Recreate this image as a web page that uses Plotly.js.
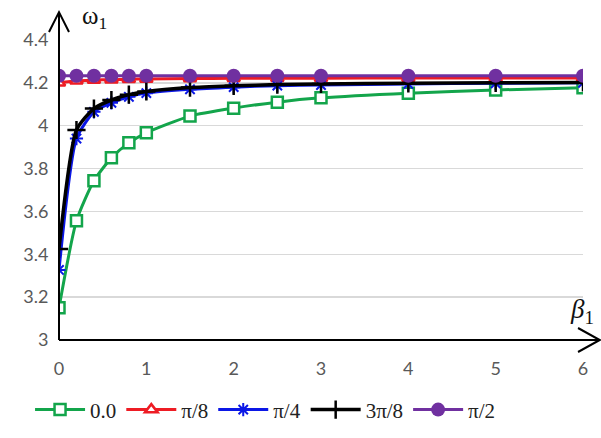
<!DOCTYPE html>
<html><head><meta charset="utf-8">
<script src="https://cdn.plot.ly/plotly-3.0.1.min.js"></script>
<style>body{margin:0;background:#fff}#c{width:601px;height:438px}</style>
</head><body><div id="c"></div>
<script>
const beta = [0, 0.2, 0.4, 0.6, 0.8, 1, 1.5, 2, 2.5, 3, 4, 5, 6];
const s0    = [3.15, 3.556, 3.743, 3.85, 3.92, 3.967, 4.045, 4.082, 4.11, 4.13, 4.152, 4.167, 4.177];
const sPi8  = [4.20, 4.21, 4.213, 4.215, 4.217, 4.218, 4.22, 4.221, 4.222, 4.222, 4.223, 4.223, 4.223];
const sPi4  = [3.327, 3.94, 4.065, 4.107, 4.135, 4.152, 4.17, 4.18, 4.187, 4.19, 4.195, 4.198, 4.2];
const s3Pi8 = [3.425, 3.98, 4.08, 4.12, 4.145, 4.16, 4.178, 4.186, 4.192, 4.195, 4.198, 4.2, 4.202];
const sPi2  = [4.233, 4.233, 4.233, 4.233, 4.233, 4.233, 4.233, 4.233, 4.233, 4.233, 4.233, 4.233, 4.233];
const names = ['0.0', 'π/8', 'π/4', '3π/8', 'π/2'];
const yTicks = [3, 3.2, 3.4, 3.6, 3.8, 4, 4.2, 4.4];
const yTickText = ['3', '3.2', '3.4', '3.6', '3.8', '4', '4.2', '4.4'];
const xTicks = [0, 1, 2, 3, 4, 5, 6];

const styles = [
  {line: {color: '#13a54b', width: 3}, marker: {symbol: 'square', size: 11, color: '#fff', line: {color: '#13a54b', width: 2.5}}},
  {line: {color: '#ee1c24', width: 3}, marker: {symbol: 'triangle-up', size: 11, color: '#fff', line: {color: '#ee1c24', width: 2.5}}},
  {line: {color: '#0b17e6', width: 3}, marker: {symbol: 'asterisk-open', size: 11, color: '#0b17e6', line: {color: '#0b17e6', width: 2}}},
  {line: {color: '#000', width: 3.5}, marker: {symbol: 'cross-thin-open', size: 13, color: '#000', line: {color: '#000', width: 2.5}}},
  {line: {color: '#7030a0', width: 3}, marker: {symbol: 'circle', size: 14, color: '#7030a0'}}
];
const series = [s0, sPi8, sPi4, s3Pi8, sPi2];
const traces = series.map((s, i) => ({
  x: beta, y: s, name: names[i], type: 'scatter', mode: 'lines+markers',
  line: Object.assign({shape: 'spline', smoothing: 0.6}, styles[i].line),
  marker: styles[i].marker
}));

const layout = {
  width: 601, height: 438,
  margin: {l: 59, r: 18, t: 40, b: 98, autoexpand: false},
  paper_bgcolor: '#fff', plot_bgcolor: '#fff',
  showlegend: true,
  legend: {orientation: 'h', xref: 'container', yref: 'container', x: 0.05, xanchor: 'left', y: 0.064, yanchor: 'middle',
    font: {family: 'Liberation Serif, serif', size: 21, color: '#222'}, itemwidth: 50, tracegroupgap: 0},
  xaxis: {range: [0, 6], tickvals: xTicks, showgrid: false, zeroline: false, showline: false,
    ticks: 'outside', ticklen: 12, tickcolor: 'rgba(0,0,0,0)', automargin: false,
    tickfont: {family: 'Lato, sans-serif', size: 18, color: '#595959'}},
  yaxis: {range: [3, 4.4], tickvals: yTicks, ticktext: yTickText, showgrid: true, gridcolor: '#d9d9d9', gridwidth: 1.5,
    zeroline: false, showline: false, ticks: 'outside', ticklen: 6, tickcolor: 'rgba(0,0,0,0)', automargin: false,
    tickfont: {family: 'Lato, sans-serif', size: 18, color: '#595959'}},
  shapes: [
    {type: 'line', xref: 'paper', yref: 'paper', x0: 0, x1: 1.032, y0: 0, y1: 0, line: {color: '#000', width: 2}},
    {type: 'path', xref: 'paper', yref: 'paper', path: 'M0.9905,0.04 L1.032,0 L0.9905,-0.04', line: {color: '#000', width: 2}},
    {type: 'line', xref: 'paper', yref: 'paper', x0: 0, x1: 0, y0: 0, y1: 1.093, line: {color: '#000', width: 2}},
    {type: 'path', xref: 'paper', yref: 'paper', path: 'M-0.0191,1.0267 L0,1.093 L0.0191,1.0267', line: {color: '#000', width: 2}}
  ],
  annotations: [
    {xref: 'paper', yref: 'paper', x: 0.04, y: 1.135, xanchor: 'left', yanchor: 'top', showarrow: false,
      text: 'ω<sub>1</sub>', font: {family: 'Liberation Serif, serif', size: 25, color: '#111'}},
    {xref: 'paper', yref: 'paper', x: 0.972, y: 0.035, xanchor: 'left', yanchor: 'bottom', showarrow: false,
      text: '<i>β</i><sub>1</sub>', font: {family: 'Liberation Serif, serif', size: 27, color: '#111'}}
  ]
};
Plotly.newPlot('c', traces, layout, {displayModeBar: false, staticPlot: true});
</script></body></html>
